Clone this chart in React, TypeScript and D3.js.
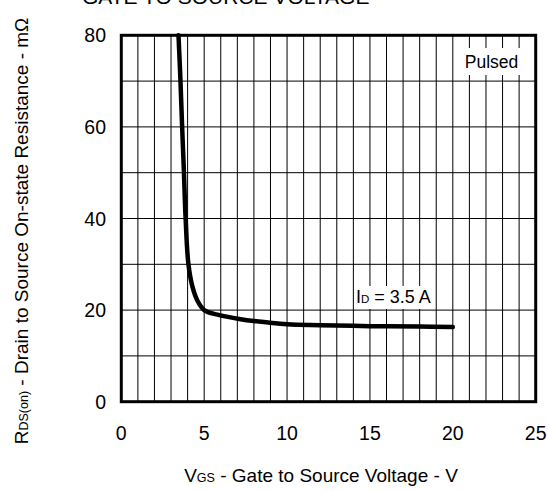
import React from 'react'
import * as d3 from 'd3'

// values (ID = 3.5 A)
const vgsValues = [3.45, 3.57, 3.67, 3.78, 3.88, 4.05, 4.3, 4.6, 5.0, 5.8, 7.2, 8, 10, 12, 15, 18, 20]
const rdsValues = [80, 70, 60, 50, 40, 30, 25, 22, 20, 19, 18, 17.6, 16.9, 16.7, 16.5, 16.4, 16.3]
const xTicks = [0, 5, 10, 15, 20, 25]
const yTicks = [0, 20, 40, 60, 80]
const xGrid = d3.range(0, 26, 1)
const yGrid = d3.range(0, 90, 10)

const W = 549
const H = 491
const font = "'Liberation Sans', Arial, sans-serif"

const App = () => {
  const x = d3.scaleLinear().domain([0, 25]).range([121.3, 535.7])
  const y = d3.scaleLinear().domain([0, 80]).range([401.7, 35.3])

  const points: [number, number][] = vgsValues.map((v, i) => [v, rdsValues[i]])
  const line = d3
    .line<[number, number]>()
    .x(d => x(d[0]))
    .y(d => y(d[1]))
    .curve(d3.curveCatmullRom.alpha(0.5))

  return (
    <svg
      width={W}
      height={H}
      style={{ position: 'absolute', left: 0, top: 0, background: '#fff' }}
      fontFamily={font}
    >
      <rect width={W} height={H} fill="#fff" />

      {/* title, cut off at the top as in the source */}
      <text x={82} y={4} fontSize={21}>
        GATE TO SOURCE VOLTAGE
      </text>

      {/* grid */}
      <g stroke="#000" strokeWidth={1}>
        {xGrid.map(v => (
          <line key={'gx' + v} x1={x(v)} x2={x(v)} y1={y(0)} y2={y(80)} />
        ))}
        {yGrid.map(v => (
          <line key={'gy' + v} x1={x(0)} x2={x(25)} y1={y(v)} y2={y(v)} />
        ))}
      </g>

      {/* label boxes */}
      <rect x={456} y={48} width={78} height={27} fill="#fff" />
      <text x={491.5} y={67.5} fontSize={17.5} textAnchor="middle">
        Pulsed
      </text>
      <rect x={356} y={286} width={79} height={23} fill="#fff" />
      <text x={356} y={303} fontSize={18}>
        I<tspan fontSize={11.5}>D</tspan> = 3.5 A
      </text>

      {/* curve */}
      <path
        d={line(points) || ''}
        fill="none"
        stroke="#000"
        strokeWidth={4.5}
        strokeLinecap="round"
        strokeLinejoin="round"
      />

      {/* frame */}
      <rect
        x={x(0)}
        y={y(80)}
        width={x(25) - x(0)}
        height={y(0) - y(80)}
        fill="none"
        stroke="#000"
        strokeWidth={3}
      />

      {/* tick labels */}
      {yTicks.map(v => (
        <text key={'yt' + v} x={106} y={y(v)} dy="0.36em" fontSize={19.5} textAnchor="end">
          {v}
        </text>
      ))}
      {xTicks.map(v => (
        <text key={'xt' + v} x={x(v)} y={440} fontSize={19.5} textAnchor="middle">
          {v}
        </text>
      ))}

      {/* axis titles */}
      <text x={321} y={482} fontSize={19} textAnchor="middle">
        V<tspan fontSize={12.5}>GS</tspan> - Gate to Source Voltage - V
      </text>
      <text transform="translate(28,231) rotate(-90)" fontSize={19} textAnchor="middle">
        R<tspan fontSize={12.5}>DS(on)</tspan> - Drain to Source On-state Resistance - mΩ
      </text>
    </svg>
  )
}

export default App
